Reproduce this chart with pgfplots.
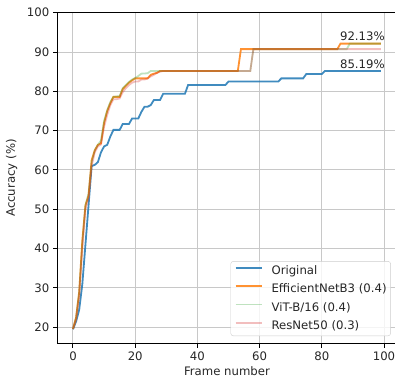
\documentclass[border=0pt]{standalone}
\usepackage{fontspec}
\setmainfont{DejaVu Sans}
\usepackage{pgfplots}
\pgfplotsset{compat=1.18}
\definecolor{mblue}{HTML}{1F77B4}
\definecolor{morange}{HTML}{FF7F0E}
\definecolor{mgreen}{HTML}{2CA02C}
\definecolor{mred}{HTML}{D62728}
\definecolor{gridc}{RGB}{200,200,200}
\definecolor{legc}{RGB}{204,204,204}
\begin{document}
\fontsize{12bp}{14bp}\selectfont
\begin{tikzpicture}
\path[use as bounding box] (-57.6bp,-35.7bp) rectangle (337.4bp,343.3bp);
\begin{axis}[
  scale only axis,
  width=338.7bp, height=330.6bp,
  xmin=-4.95, xmax=103.95, ymin=15.93, ymax=100,
  xtick={0,20,40,60,80,100},
  ytick={20,30,40,50,60,70,80,90,100},
  grid=major,
  major grid style={gridc, line width=1bp},
  axis line style={black, line width=1bp},
  tick align=outside,
  major tick length=4.2bp,
  tick style={black, line width=1bp},
  xtick pos=bottom, ytick pos=left,
  /pgf/number format/assume math mode=true,
  ticklabel style={font=\fontsize{11.7bp}{14bp}\selectfont, text=black!85},
  xlabel={Frame number},
  ylabel={Accuracy (\%)},
  xlabel style={at={(axis description cs:0.5,0)}, anchor=north, yshift=-23.2bp, inner sep=0pt, font=\fontsize{11.7bp}{14bp}\selectfont, text=black!85},
  ylabel style={at={(axis description cs:0,0.5)}, anchor=south, yshift=40bp, inner sep=0pt, font=\fontsize{11.7bp}{14bp}\selectfont, text=black!85},
  legend cell align=left,
  legend image code/.code={\draw[#1] (0bp,3.3bp) -- (26bp,3.3bp);},
  legend style={at={(1,0)}, anchor=south east, xshift=-5.5bp, yshift=7.3bp,
    draw=legc, fill=white, fill opacity=0.8, text opacity=1,
    rounded corners=2.5bp, inner xsep=4bp, inner ysep=4bp,
    font=\fontsize{11.7bp}{14bp}\selectfont, text=black!85,
    nodes={inner sep=0pt, text height=9bp, text depth=2.5bp},
    row sep=6.8bp,
    /tikz/every odd column/.append style={column sep=9bp}},
]
\addplot[mblue, opacity=0.85, line width=1.8bp] coordinates {
(0,19.5)(1,21.5)(2,24.5)(3,31)(4,41)(5,51)(6,61)(7,61.3)(8,62)(9,64.5)(10,66)(11,66.4)(12,68.5)(13,70.2)(15,70.2)(16,71.7)(18,71.7)(19,73.1)(21,73.1)(22,74.8)(23,76.1)(24,76.1)(25,76.5)(26,77.8)(28,77.8)(29,79.4)(36,79.4)(37,81.6)(49,81.6)(50,82.5)(66,82.5)(67,83.3)(74,83.3)(75,84.4)(80,84.4)(81,85.19)(99,85.19)
};
\addlegendentry{Original}
\addplot[morange, opacity=0.85, line width=1.8bp] coordinates {
(0,19.6)(1,22.5)(2,29)(3,42)(4,51)(5,53.5)(6,62.5)(7,65)(8,66.4)(9,66.8)(10,72)(11,75)(12,77)(13,78.6)(15,78.6)(16,80.6)(17,81.4)(18,82.2)(19,82.8)(20,83.3)(24,83.3)(25,84.2)(26,84.5)(27,84.7)(28,85.19)(53,85.19)(54,90.74)(85,90.74)(86,92.13)(99,92.13)
};
\addlegendentry{EfficientNetB3 (0.4)}
\addplot[mgreen, opacity=0.3, line width=1.8bp] coordinates {
(0,19.6)(1,22.5)(2,29)(3,41.5)(4,51)(5,54)(6,62)(7,65)(8,66.4)(9,67.5)(10,72.5)(11,75.2)(12,77.3)(13,78.6)(15,78.8)(16,80.8)(17,81.6)(18,82.4)(19,83)(20,83.4)(21,83.9)(22,84.5)(24,84.6)(25,85.19)(57,85.19)(58,90.74)(88,90.74)(89,92.13)(99,92.13)
};
\addlegendentry{ViT-B/16 (0.4)}
\addplot[mred, opacity=0.3, line width=1.8bp] coordinates {
(0,19.6)(1,22)(2,28)(3,40)(4,50)(5,53)(6,61)(7,64.5)(8,66)(9,66.5)(10,71)(11,74)(12,76.5)(13,78)(14,78)(15,78.2)(16,79.8)(17,80.8)(18,81.6)(19,82.2)(20,82.5)(21,82.5)(22,83)(23,83)(24,83.3)(25,83.8)(26,84.2)(27,84.7)(28,85)(29,85.19)(57,85.19)(58,90.74)(99,90.74)
};
\addlegendentry{ResNet50 (0.3)}
\node[anchor=south east, inner sep=0pt, xshift=4bp, yshift=2.5bp, text=black!85, font=\fontsize{11.7bp}{14bp}\selectfont] at (axis cs:99,92.13) {92.13\%};
\node[anchor=south east, inner sep=0pt, xshift=4bp, yshift=2.5bp, text=black!85, font=\fontsize{11.7bp}{14bp}\selectfont] at (axis cs:99,85.19) {85.19\%};
\end{axis}
\end{tikzpicture}
\end{document}
